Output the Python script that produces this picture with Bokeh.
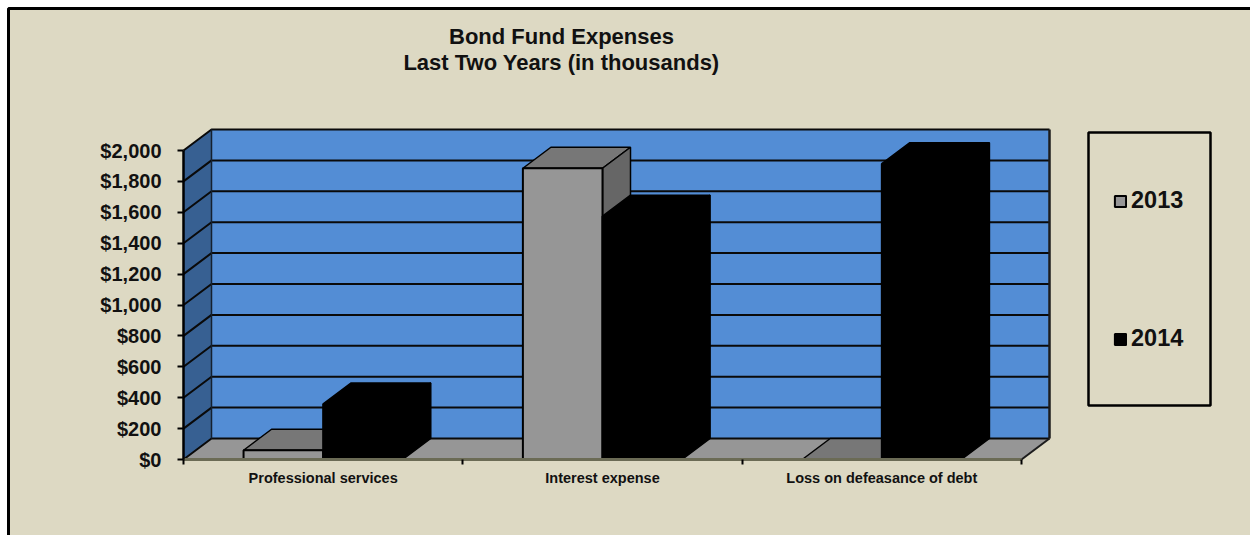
from bokeh.plotting import figure
from bokeh.models import (BoxAnnotation, FixedTicker, Label, Legend, LegendItem,
                          LinearAxis, Range1d)
from bokeh.embed import file_html
from bokeh.resources import INLINE

# Bond fund expenses, thousands of dollars
categories = ["Professional services", "Interest expense", "Loss on defeasance of debt"]
series_names = ["2013", "2014"]
values_2013 = [60, 1885, 0]
values_2014 = [360, 1575, 1915]
y_ticks = [0, 200, 400, 600, 800, 1000, 1200, 1400, 1600, 1800, 2000]
y_tick_labels = ["$0", "$200", "$400", "$600", "$800", "$1,000", "$1,200",
                 "$1,400", "$1,600", "$1,800", "$2,000"]
title_lines = ["Bond Fund Expenses", "Last Two Years (in thousands)"]

W, H = 1250, 535
X0_PX, Y0_PX = 183, 459          # origin of the front floor edge
CAT_PX = 838 / 3                 # pixels per category
VAL_PX = 309 / 2000              # pixels per thousand dollars
DX, DY = 28 / CAT_PX, 21 / VAL_PX  # oblique depth of the box, in data units
GAP, BAR = 0.215, 0.285          # bar layout inside one category
N = len(categories)
TOP = y_ticks[-1]

BG = "#DDD9C3"
WALL, SIDE_WALL, FLOOR = "#538DD5", "#376092", "#969696"
TEXT = "#111111"
FONT = "Liberation Sans"

p = figure(width=W, height=H, output_backend="svg", toolbar_location=None,
           x_range=Range1d(-X0_PX / CAT_PX, (W - X0_PX) / CAT_PX),
           y_range=Range1d(-(H - Y0_PX) / VAL_PX, Y0_PX / VAL_PX),
           x_axis_type=None, y_axis_type=None,
           min_border=0, min_border_left=0, min_border_right=0,
           min_border_top=0, min_border_bottom=0)
p.grid.visible = False
p.outline_line_color = None
p.background_fill_color = "white"
p.border_fill_color = "white"


def screen_box(left, right, top, bottom, **style):
    # Box given in pixels from the top-left corner of the page
    return BoxAnnotation(left=left, right=right, top=H - top, bottom=H - bottom,
                         left_units="screen", right_units="screen",
                         top_units="screen", bottom_units="screen",
                         line_color="black", line_alpha=1, **style)


# Page panel with its heavy top and left rule
p.add_layout(screen_box(8, W + 10, 8, H + 10, fill_color=BG, fill_alpha=1,
                        line_width=3, level="underlay"))

# Back wall, left wall and floor of the 3D box
p.patch([DX, N + DX, N + DX, DX], [DY, DY, TOP + DY, TOP + DY],
        fill_color=WALL, line_color=None)
p.patch([0, DX, DX, 0], [0, DY, TOP + DY, TOP],
        fill_color=SIDE_WALL, line_color=None)
p.patch([0, N, N + DX, DX], [0, 0, DY, DY], fill_color=FLOOR, line_color=None)

# Gridlines run along the left wall and across the back wall
for v in y_ticks:
    p.line([0, DX, N + DX], [v, v + DY, v + DY], line_color="#0a0a0a", line_width=2)
p.line([DX, DX], [DY, TOP + DY], line_color="#14202f", line_width=1.5)
p.line([N + DX, N + DX], [DY, TOP + DY], line_color="#1c1c1c", line_width=2.5)
p.line([N, N + DX], [0, DY], line_color="#1c1c1c", line_width=2)


def draw_bars(values, slot, front, top, side):
    lefts = [i + GAP + slot * BAR for i in range(N)]
    rights = [x + BAR for x in lefts]
    p.patches([[l, r, r + DX, l + DX] for l, r in zip(lefts, rights)],
              [[v, v, v + DY, v + DY] for v in values],
              fill_color=top, line_color="black", line_width=1.5)
    p.patches([[r, r + DX, r + DX, r] for r in rights],
              [[0, DY, v + DY, v] for v in values],
              fill_color=side, line_color="black", line_width=1.5)
    return p.quad(left=lefts, right=rights, bottom=[0] * N, top=values,
                  fill_color=front, line_color="black", line_width=2)


front_2013 = draw_bars(values_2013, 0, "#969696", "#777777", "#666666")
front_2014 = draw_bars(values_2014, 1, "#000000", "#000000", "#000000")

# Axes pinned to the front edge of the box
y_axis = LinearAxis(fixed_location=0, bounds=(0, TOP),
                    ticker=FixedTicker(ticks=y_ticks),
                    major_label_overrides=dict(zip(y_ticks, y_tick_labels)),
                    major_tick_out=6, major_tick_in=0, major_tick_line_width=2,
                    major_tick_line_color="black", minor_tick_line_color=None,
                    axis_line_color="black", axis_line_width=2.5,
                    major_label_standoff=16, major_label_text_font=FONT,
                    major_label_text_font_style="bold",
                    major_label_text_font_size="20px",
                    major_label_text_color=TEXT)
p.add_layout(y_axis, "left")

tick_positions = list(range(N + 1))
x_ticks = LinearAxis(fixed_location=0, bounds=(0, N),
                     ticker=FixedTicker(ticks=tick_positions),
                     major_label_overrides={t: "" for t in tick_positions},
                     major_tick_out=5, major_tick_in=0, major_tick_line_width=2,
                     major_tick_line_color="black", minor_tick_line_color=None,
                     axis_line_color="#6b6b55", axis_line_width=3)
p.add_layout(x_ticks, "below")

centers = [i + 0.5 for i in range(N)]
x_labels = LinearAxis(fixed_location=0, ticker=FixedTicker(ticks=centers),
                      major_label_overrides=dict(zip(centers, categories)),
                      axis_line_color=None, major_tick_line_color=None,
                      minor_tick_line_color=None, major_label_standoff=4,
                      major_label_text_font=FONT, major_label_text_font_style="bold",
                      major_label_text_font_size="14.5px", major_label_text_color=TEXT)
p.add_layout(x_labels, "below")

# Two-line heading
for line, sy in zip(title_lines, (36, 62)):
    p.add_layout(Label(x=561, y=H - sy, x_units="screen", y_units="screen", text=line,
                       text_align="center", text_baseline="middle", text_font=FONT,
                       text_font_style="bold", text_font_size="22px", text_color=TEXT))

# Legend inside a separately ruled frame
p.add_layout(screen_box(1088, 1210, 132, 405, fill_alpha=0, line_width=2.5))
legend = Legend(items=[LegendItem(label=series_names[0], renderers=[front_2013]),
                       LegendItem(label=series_names[1], renderers=[front_2014])],
                location=(1113, 183), orientation="vertical",
                background_fill_alpha=0, border_line_color=None, padding=0, margin=0,
                spacing=111, glyph_width=14, glyph_height=14, label_standoff=4,
                label_text_font=FONT, label_text_font_style="bold",
                label_text_font_size="23.5px", label_text_color=TEXT)
p.add_layout(legend, "center")

open("out.html", "w").write(file_html(p, INLINE))
